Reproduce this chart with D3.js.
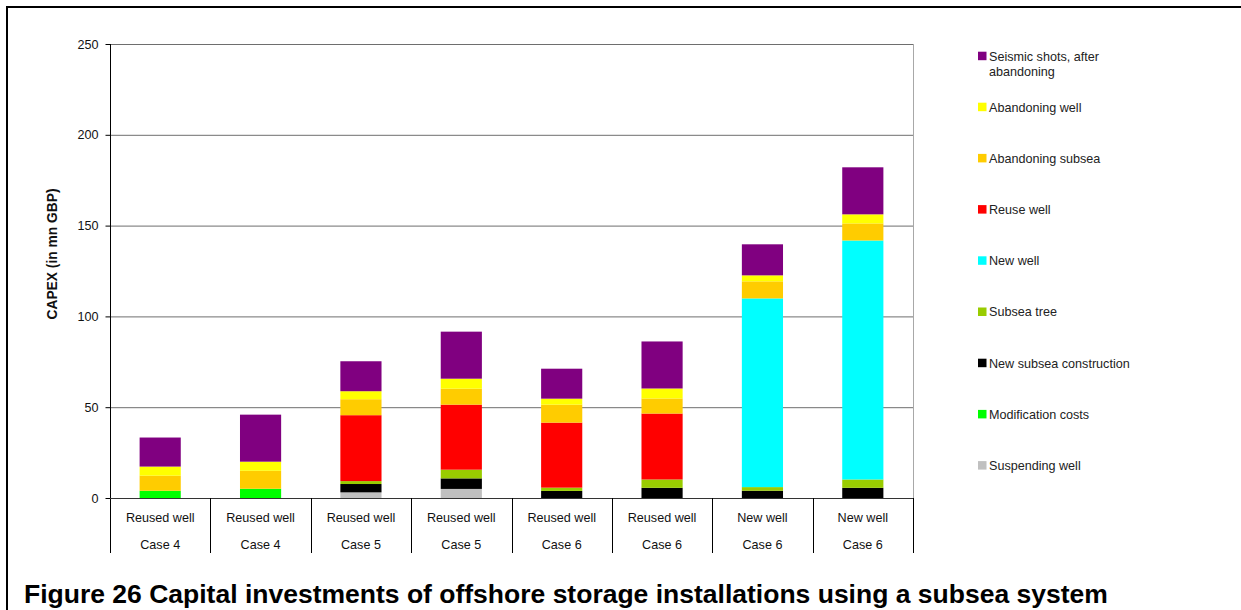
<!DOCTYPE html>
<html>
<head>
<meta charset="utf-8">
<script src="https://cdn.jsdelivr.net/npm/d3@7"></script>
<style>
  html, body { margin: 0; padding: 0; background: #fff; }
  svg { display: block; font-family: "Liberation Sans", Arial, sans-serif; }
</style>
</head>
<body>
<svg id="chart" width="1241" height="610"></svg>
<script>
// Category labels (two rows under each bar)
const wellTypes = ["Reused well", "Reused well", "Reused well", "Reused well",
                   "Reused well", "Reused well", "New well", "New well"];
const caseNames = ["Case 4", "Case 4", "Case 5", "Case 5",
                   "Case 6", "Case 6", "Case 6", "Case 6"];

// Cost components in mn GBP, stacked bottom to top
const suspendingWell      = [0, 0, 3.1, 5.0, 0, 0, 0, 0];
const modificationCosts   = [4.0, 5.1, 0, 0, 0, 0, 0, 0];
const newSubseaConstr     = [0, 0, 4.6, 5.8, 3.9, 5.6, 4.0, 5.6];
const subseaTree          = [0, 0, 1.6, 4.8, 1.8, 4.6, 2.0, 4.6];
const newWell             = [0, 0, 0, 0, 0, 0, 103.9, 131.6];
const reuseWell           = [0, 0, 36.3, 35.8, 35.8, 36.3, 0, 0];
const abandoningSubsea    = [8.3, 9.9, 8.8, 8.8, 9.9, 8.3, 9.4, 9.4];
const abandoningWell      = [5.0, 5.0, 4.4, 5.5, 3.3, 5.5, 3.3, 5.0];
const seismicShots        = [16.0, 25.9, 16.5, 25.9, 16.5, 25.9, 17.1, 25.9];

const yTicks = [0, 50, 100, 150, 200, 250];

const series = [
  { name: "Suspending well",            values: suspendingWell,    color: "#C0C0C0" },
  { name: "Modification costs",         values: modificationCosts, color: "#00FF00" },
  { name: "New subsea construction",    values: newSubseaConstr,   color: "#000000" },
  { name: "Subsea tree",                values: subseaTree,        color: "#99CC00" },
  { name: "New well",                   values: newWell,           color: "#00FFFF" },
  { name: "Reuse well",                 values: reuseWell,         color: "#FF0000" },
  { name: "Abandoning subsea",          values: abandoningSubsea,  color: "#FFCC00" },
  { name: "Abandoning well",            values: abandoningWell,    color: "#FFFF00" },
  { name: "Seismic shots, after abandoning", values: seismicShots, color: "#800080",
    lines: ["Seismic shots, after", "abandoning"] }
];

const svg = d3.select("#chart");
const plot = { left: 110, right: 913, top: 44, bottom: 498 };

const idx = d3.range(wellTypes.length);
const rows = idx.map(i => {
  const r = { i };
  series.forEach(s => { r[s.name] = s.values[i]; });
  return r;
});
const stacked = d3.stack().keys(series.map(s => s.name))(rows);

const x = d3.scaleBand().domain(idx).range([plot.left, plot.right]).padding(0);
const y = d3.scaleLinear().domain([0, 250]).range([plot.bottom, plot.top]);
const barW = x.bandwidth() * 0.41;

// Outer frame (top and left edges)
svg.append("line").attr("x1", 7).attr("x2", 1241).attr("y1", 7).attr("y2", 7)
  .attr("stroke", "#000").attr("stroke-width", 2);
svg.append("line").attr("x1", 7).attr("x2", 7).attr("y1", 6).attr("y2", 610)
  .attr("stroke", "#000").attr("stroke-width", 2);

// Horizontal gridlines
svg.append("g").selectAll("line").data(yTicks.filter(t => t > 0)).join("line")
  .attr("x1", plot.left).attr("x2", plot.right)
  .attr("y1", d => y(d) + 0.5).attr("y2", d => y(d) + 0.5)
  .attr("stroke", "#6e6e6e").attr("stroke-width", 1);

// Plot area right edge
svg.append("line").attr("x1", plot.right + 0.5).attr("x2", plot.right + 0.5)
  .attr("y1", plot.top).attr("y2", plot.bottom)
  .attr("stroke", "#a8a8a8").attr("stroke-width", 1);

// Stacked bars
svg.append("g").selectAll("g").data(stacked).join("g")
  .attr("fill", (d, k) => series[k].color)
  .selectAll("rect").data(d => d.filter(p => p[1] - p[0] > 0)).join("rect")
  .attr("x", p => x(p.data.i) + (x.bandwidth() - barW) / 2)
  .attr("width", barW)
  .attr("y", p => y(p[1]))
  .attr("height", p => y(p[0]) - y(p[1]));

// Y axis
const yAxis = d3.axisLeft(y).tickValues(yTicks).tickSize(5).tickPadding(7);
const ya = svg.append("g").attr("transform", `translate(${plot.left + 0.5},0)`).call(yAxis);
ya.select(".domain").remove();
ya.selectAll(".tick line").attr("stroke", "#000");
ya.selectAll(".tick text").attr("font-size", "12.6px").attr("fill", "#111")
  .attr("font-family", "Liberation Sans, Arial, sans-serif");
svg.append("line").attr("x1", plot.left + 0.5).attr("x2", plot.left + 0.5)
  .attr("y1", plot.top).attr("y2", 553).attr("stroke", "#000");

// X baseline and category separators
svg.append("line").attr("x1", plot.left).attr("x2", plot.right + 1)
  .attr("y1", plot.bottom + 0.5).attr("y2", plot.bottom + 0.5).attr("stroke", "#333");
svg.append("g").selectAll("line").data(idx.map(i => x(i) + x.bandwidth()))
  .join("line")
  .attr("x1", d => Math.round(d) + 0.5).attr("x2", d => Math.round(d) + 0.5)
  .attr("y1", plot.bottom).attr("y2", 553).attr("stroke", "#000");

// Category labels
const catG = svg.append("g").attr("font-size", "12.6px").attr("fill", "#111")
  .attr("text-anchor", "middle");
catG.selectAll("text.type").data(idx).join("text").attr("class", "type")
  .attr("x", i => x(i) + x.bandwidth() / 2).attr("y", 522).text(i => wellTypes[i]);
catG.selectAll("text.case").data(idx).join("text").attr("class", "case")
  .attr("x", i => x(i) + x.bandwidth() / 2).attr("y", 549).text(i => caseNames[i]);

// Y axis title
svg.append("text")
  .attr("transform", `translate(57,254) rotate(-90)`)
  .attr("text-anchor", "middle").attr("font-size", "13.8px").attr("font-weight", "bold")
  .attr("fill", "#111").text("CAPEX (in mn GBP)");

// Legend, top entry first
const legendItems = series.slice().reverse();
const lg = svg.append("g").attr("font-size", "12.6px").attr("fill", "#222");
legendItems.forEach((s, k) => {
  const cy = k === 0 ? 56 : 107 + (k - 1) * 51.2;
  lg.append("rect").attr("x", 978).attr("y", cy - 4.3).attr("width", 8.5).attr("height", 8.5)
    .attr("fill", s.color);
  const lines = s.lines || [s.name];
  lines.forEach((t, j) => {
    lg.append("text").attr("x", 989).attr("y", cy + 4.5 + j * 15.5).text(t);
  });
});

// Caption
svg.append("text").attr("x", 24).attr("y", 603)
  .attr("font-size", "26.5px").attr("font-weight", "bold").attr("fill", "#000")
  .text("Figure 26 Capital investments of offshore storage installations using a subsea system");
</script>
</body>
</html>
